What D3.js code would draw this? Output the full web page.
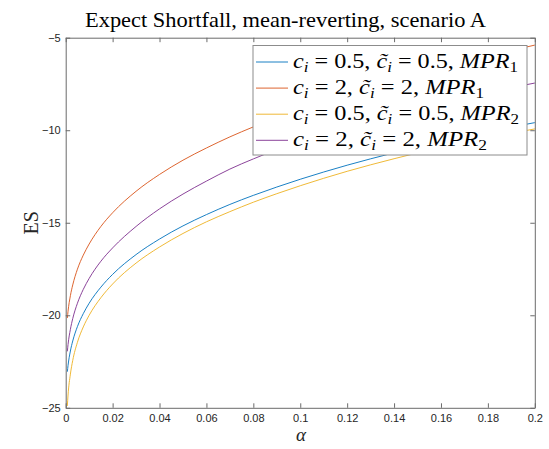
<!DOCTYPE html>
<html>
<head>
<meta charset="utf-8">
<script src="https://cdn.jsdelivr.net/npm/d3@7/dist/d3.min.js"></script>
<style>
  html, body { margin: 0; padding: 0; background: #fff; }
  svg { display: block; }
</style>
</head>
<body>
<svg id="chart" width="549" height="449"></svg>
<script>
// Confidence level grid (alpha) shared by all four series
const alpha = [0.0007, 0.001, 0.002, 0.003, 0.005, 0.0075, 0.01, 0.015, 0.02, 0.03, 0.04,
               0.05, 0.06, 0.07, 0.08, 0.09, 0.10, 0.12, 0.14, 0.16, 0.18, 0.20];

// Expected shortfall for each parameter set
const esC05MPR1 = [-23.05, -22.71, -21.93, -21.39, -20.61, -19.91, -19.35, -18.48, -17.79, -16.72, -15.88,
                   -15.17, -14.56, -14.01, -13.52, -13.07, -12.65, -11.89, -11.22, -10.62, -10.08, -9.59];
const esC2MPR1   = [-20.15, -19.78, -18.94, -18.36, -17.51, -16.75, -16.15, -15.20, -14.46, -13.30, -12.39,
                   -11.62, -10.96, -10.36, -9.82, -9.32, -8.86, -8.03, -7.28, -6.60, -5.98, -5.40];
const esC05MPR2 = [-24.90, -24.31, -23.18, -22.44, -21.46, -20.63, -20.00, -19.05, -18.31, -17.18, -16.31,
                   -15.58, -14.95, -14.40, -13.89, -13.43, -13.00, -12.22, -11.54, -10.93, -10.40, -9.93];
const esC2MPR2   = [-21.95, -21.58, -20.76, -20.18, -19.35, -18.60, -18.01, -17.08, -16.36, -15.20, -14.25,
                   -13.45, -12.75, -12.10, -11.55, -11.05, -10.62, -9.85, -9.15, -8.52, -7.96, -7.45];

const seriesValues = [esC05MPR1, esC2MPR1, esC05MPR2, esC2MPR2];
const seriesColors = ["#0072BD", "#D95319", "#EDB120", "#7E2F8E"];
const legendC = ["0.5", "2", "0.5", "2"];
const legendMPR = ["1", "1", "2", "2"];

const xTicks = [0, 0.02, 0.04, 0.06, 0.08, 0.1, 0.12, 0.14, 0.16, 0.18, 0.2];
const yTicks = [-25, -20, -15, -10, -5];

const titleText = "Expect Shortfall, mean-reverting, scenario A";
const xLabel = "\u03b1";
const yLabel = "ES";

const svg = d3.select("#chart");
const plotL = 65.7, plotR = 534.8, plotT = 37.7, plotB = 407.8;

const x = d3.scaleLinear().domain([0, 0.2]).range([plotL, plotR]);
const y = d3.scaleLinear().domain([-25, -5]).range([plotB, plotT]);

const axisColor = "#262626";
const frameColor = "#6b6b6b";
const tickFont = "Liberation Sans, Arial, Helvetica, sans-serif";
const serif = "Liberation Serif, Times New Roman, serif";

// Curves
const line = d3.line()
  .x((d, i) => x(alpha[i]))
  .y(d => y(d))
  .curve(d3.curveMonotoneX);

svg.append("g")
  .selectAll("path")
  .data(seriesValues)
  .join("path")
  .attr("d", d => line(d))
  .attr("fill", "none")
  .attr("stroke", (d, i) => seriesColors[i])
  .attr("stroke-width", 0.9);

// Axes: ticks point inward on all four sides
function styleAxis(g) {
  g.select(".domain").attr("stroke", frameColor).attr("stroke-width", 1);
  g.selectAll(".tick line").attr("stroke", frameColor).attr("stroke-width", 1);
  g.selectAll(".tick text").attr("fill", axisColor)
    .style("font-family", tickFont).style("font-size", "11px");
}

svg.append("g")
  .attr("transform", `translate(0,${plotB})`)
  .call(d3.axisBottom(x).tickValues(xTicks).tickFormat(d3.format("~g"))
    .tickSizeInner(-4.5).tickSizeOuter(0).tickPadding(6.5))
  .call(styleAxis);

svg.append("g")
  .attr("transform", `translate(0,${plotT})`)
  .call(d3.axisTop(x).tickValues(xTicks).tickFormat("")
    .tickSizeInner(-4.5).tickSizeOuter(0))
  .call(styleAxis);

svg.append("g")
  .attr("transform", `translate(${plotL},0)`)
  .call(d3.axisLeft(y).tickValues(yTicks).tickFormat(d3.format("~g"))
    .tickSizeInner(-4.5).tickSizeOuter(0).tickPadding(5))
  .call(styleAxis);

svg.append("g")
  .attr("transform", `translate(${plotR},0)`)
  .call(d3.axisRight(y).tickValues(yTicks).tickFormat("")
    .tickSizeInner(-4.5).tickSizeOuter(0))
  .call(styleAxis);

// Title and axis labels
svg.append("text")
  .attr("x", 285.5).attr("y", 27)
  .attr("text-anchor", "middle")
  .attr("textLength", 401).attr("lengthAdjust", "spacingAndGlyphs")
  .style("font-family", serif).style("font-size", "21px")
  .attr("fill", "#000")
  .text(titleText);

svg.append("text")
  .attr("x", 301).attr("y", 440.5)
  .attr("text-anchor", "middle")
  .style("font-family", serif).style("font-style", "italic").style("font-size", "19px")
  .attr("fill", "#262626")
  .text(xLabel);

svg.append("text")
  .attr("transform", `translate(38,${(plotT + plotB) / 2}) rotate(-90)`)
  .attr("text-anchor", "middle")
  .style("font-family", serif).style("font-size", "20px")
  .attr("fill", "#262626")
  .text(yLabel);

// Legend
const lg = { x0: 253, y0: 45.5, w: 274, h: 109.5, row: 26.1, first: 62 };
const legendTextWidth = [225, 191, 226, 194];
const legend = svg.append("g");
legend.append("rect")
  .attr("x", lg.x0).attr("y", lg.y0).attr("width", lg.w).attr("height", lg.h)
  .attr("fill", "#fff").attr("stroke", "#8c8c8c").attr("stroke-width", 1);

seriesColors.forEach((col, i) => {
  const cy = lg.first + i * lg.row;
  legend.append("line")
    .attr("x1", 256).attr("x2", 288).attr("y1", cy).attr("y2", cy)
    .attr("stroke", col).attr("stroke-width", 0.9);

  const parts = [
    { t: "c", it: true }, { t: "i", it: true, sub: true },
    { t: " = " + legendC[i] + ", " },
    { t: "c\u0303", it: true }, { t: "i", it: true, sub: true },
    { t: " = " + legendC[i] + ", " },
    { t: "MPR", it: true }, { t: legendMPR[i], sub: true }
  ];
  const txt = legend.append("text")
    .attr("x", 293).attr("y", cy + 5.5)
    .attr("textLength", legendTextWidth[i]).attr("lengthAdjust", "spacingAndGlyphs")
    .style("font-family", serif).style("font-size", "20px")
    .attr("fill", "#000");
  let prevSub = false;
  parts.forEach(p => {
    const ts = txt.append("tspan").text(p.t);
    if (p.it) ts.style("font-style", "italic");
    if (p.sub) { ts.style("font-size", "14px"); }
    const shift = (p.sub ? 4 : 0) - (prevSub ? 4 : 0);
    if (shift !== 0) ts.attr("dy", shift);
    prevSub = !!p.sub;
  });
});
</script>
</body>
</html>
